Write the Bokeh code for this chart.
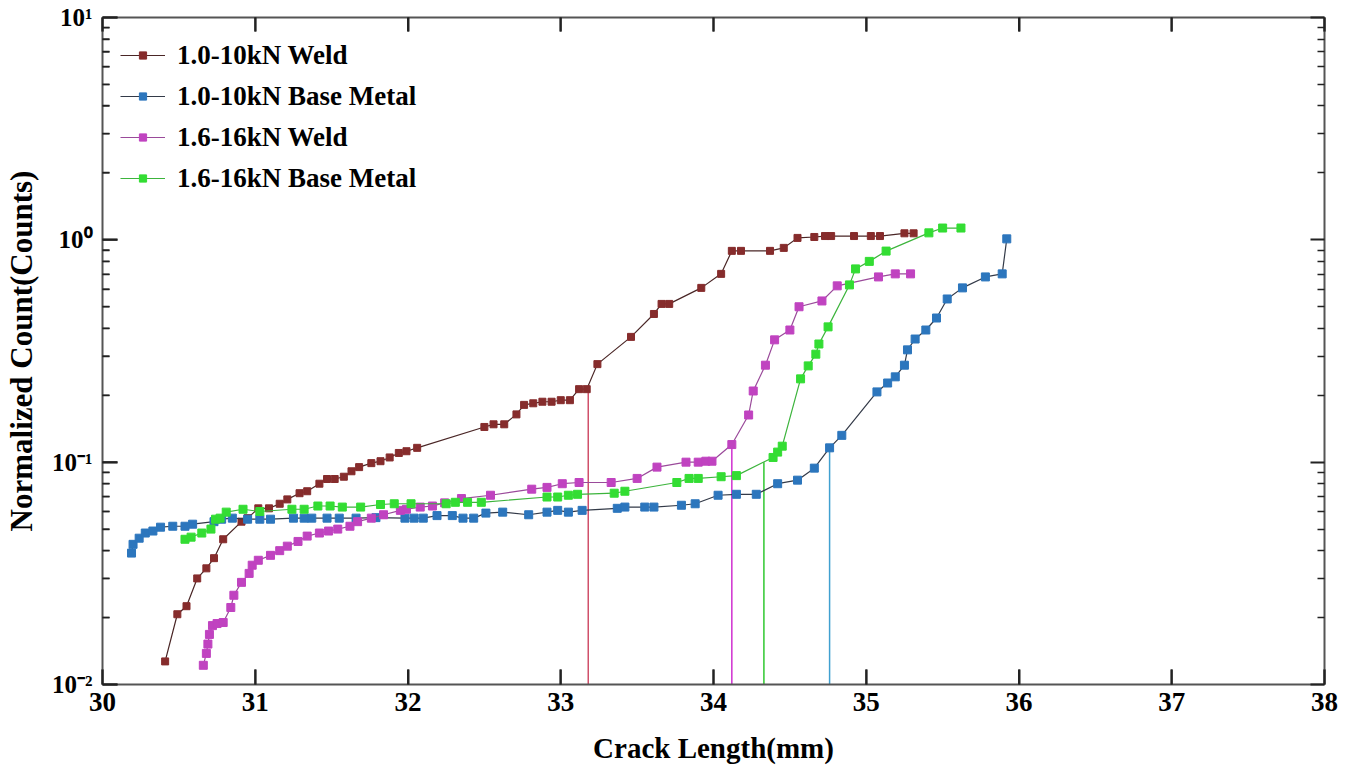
from bokeh.plotting import figure
from bokeh.models import FixedTicker, LinearAxis, LogAxis, Legend, LegendItem
from bokeh.embed import file_html
from bokeh.resources import INLINE

# ---------------- data ----------------
weld10_x = [30.41, 30.49, 30.55, 30.62, 30.68, 30.73, 30.79, 30.91, 30.95, 31.02, 31.09, 31.16,
            31.21, 31.29, 31.34, 31.42, 31.47, 31.52, 31.58, 31.63, 31.68, 31.76, 31.82, 31.88,
            31.94, 31.99, 32.06, 32.50, 32.56, 32.63, 32.71, 32.76, 32.82, 32.88, 32.94, 33.00,
            33.06, 33.12, 33.17, 33.24, 33.46, 33.61, 33.66, 33.71, 33.92, 34.05, 34.12, 34.18,
            34.37, 34.46, 34.55, 34.66, 34.73, 34.77, 34.92, 35.03, 35.09, 35.25, 35.31]
weld10_y = [0.0127, 0.0207, 0.0225, 0.030, 0.0333, 0.037, 0.045, 0.054, 0.056, 0.062, 0.062, 0.065,
            0.068, 0.0725, 0.074, 0.080, 0.084, 0.084, 0.086, 0.091, 0.095, 0.099, 0.101, 0.105,
            0.110, 0.112, 0.116, 0.144, 0.148, 0.148, 0.164, 0.181, 0.184, 0.187, 0.187, 0.190,
            0.190, 0.213, 0.213, 0.276, 0.366, 0.464, 0.515, 0.515, 0.608, 0.703, 0.892, 0.892,
            0.892, 0.920, 1.02, 1.03, 1.04, 1.04, 1.04, 1.04, 1.04, 1.07, 1.07]

base10_x = [30.19, 30.20, 30.24, 30.28, 30.33, 30.38, 30.46, 30.54, 30.59, 30.73, 30.78, 30.85,
            30.95, 31.03, 31.10, 31.25, 31.32, 31.37, 31.47, 31.55, 31.66, 31.79, 31.98, 32.04,
            32.10, 32.19, 32.29, 32.36, 32.43, 32.51, 32.62, 32.79, 32.91, 32.98, 33.05, 33.14,
            33.37, 33.42, 33.55, 33.61, 33.79, 33.88, 34.03, 34.15, 34.28, 34.42, 34.55, 34.66,
            34.76, 34.84, 35.07, 35.14, 35.19, 35.25, 35.27, 35.32, 35.39, 35.46, 35.53, 35.63,
            35.78, 35.89, 35.92]
base10_y = [0.039, 0.0427, 0.0455, 0.048, 0.049, 0.051, 0.0515, 0.0515, 0.0526, 0.054, 0.0554, 0.056,
            0.0554, 0.0554, 0.0554, 0.056, 0.056, 0.056, 0.056, 0.056, 0.056, 0.0563, 0.056, 0.056,
            0.056, 0.0575, 0.0575, 0.056, 0.056, 0.059, 0.0596, 0.058, 0.0596, 0.0607, 0.0596, 0.0607,
            0.062, 0.0628, 0.0628, 0.0628, 0.064, 0.065, 0.071, 0.0717, 0.0717, 0.080, 0.083, 0.094,
            0.116, 0.132, 0.207, 0.227, 0.242, 0.273, 0.320, 0.358, 0.393, 0.445, 0.542, 0.608,
            0.681, 0.703, 1.01]

weld16_x = [30.66, 30.68, 30.69, 30.70, 30.72, 30.75, 30.79, 30.84, 30.86, 30.91, 30.96, 30.98,
            31.02, 31.10, 31.16, 31.21, 31.28, 31.34, 31.42, 31.48, 31.54, 31.62, 31.67, 31.76,
            31.84, 31.95, 31.99, 32.08, 32.16, 32.24, 32.35, 32.54, 32.81, 32.91, 33.01, 33.12,
            33.33, 33.50, 33.63, 33.82, 33.90, 33.95, 33.99, 34.12, 34.23, 34.26, 34.34, 34.40,
            34.50, 34.56, 34.71, 34.81, 35.08, 35.19, 35.29]
weld16_y = [0.0122, 0.0138, 0.0152, 0.0168, 0.0184, 0.0188, 0.019, 0.0222, 0.0252, 0.0288, 0.0316, 0.0344,
            0.0362, 0.0381, 0.040, 0.0419, 0.044, 0.0465, 0.048, 0.049, 0.050, 0.0515, 0.054, 0.056,
            0.058, 0.0607, 0.0614, 0.0628, 0.0635, 0.0656, 0.0686, 0.071, 0.0756, 0.077, 0.080, 0.081,
            0.081, 0.0845, 0.095, 0.100, 0.100, 0.101, 0.101, 0.120, 0.163, 0.209, 0.273, 0.355,
            0.393, 0.500, 0.531, 0.621, 0.681, 0.703, 0.703]

base16_x = [30.54, 30.58, 30.65, 30.71, 30.74, 30.77, 30.81, 30.92, 31.03, 31.24, 31.32, 31.41,
            31.49, 31.57, 31.69, 31.82, 31.91, 32.02, 32.25, 32.31, 32.39, 32.48, 32.91, 32.98,
            33.05, 33.11, 33.35, 33.42, 33.76, 33.84, 33.90, 34.05, 34.15, 34.39, 34.42, 34.45,
            34.57, 34.62, 34.67, 34.69, 34.75, 34.89, 34.93, 35.02, 35.13, 35.41, 35.50, 35.62]
base16_y = [0.045, 0.046, 0.048, 0.050, 0.0554, 0.056, 0.0596, 0.0614, 0.060, 0.0614, 0.0614, 0.0635,
            0.0635, 0.0628, 0.0628, 0.0645, 0.065, 0.065, 0.065, 0.066, 0.066, 0.066, 0.0697, 0.0697,
            0.071, 0.0717, 0.0725, 0.074, 0.081, 0.0845, 0.0845, 0.086, 0.087, 0.105, 0.111, 0.118,
            0.237, 0.271, 0.306, 0.340, 0.406, 0.627, 0.740, 0.800, 0.890, 1.075, 1.13, 1.13]

drop_x = [33.18, 34.12, 34.33, 34.76]
drop_top = [0.22, 0.12, 0.10, 0.116]
drop_bottom = [0.01, 0.01, 0.01, 0.01]

labels = ["1.0-10kN Weld", "1.0-10kN Base Metal", "1.6-16kN Weld", "1.6-16kN Base Metal"]
x_lim = (30, 38)
y_lim = (0.01, 10)
x_ticks = [30, 31, 32, 33, 34, 35, 36, 37, 38]
y_ticks = [0.01, 0.1, 1, 10]
y_tick_labels = ["10\u207b\u00b2", "10\u207b\u00b9", "10\u2070", "10\u00b9"]
y_minor = [m * d for d in [0.01, 0.1, 1] for m in range(2, 10)]

# ---------------- figure ----------------
SERIF = "Liberation Serif"
AX_COL = "#555555"
TICK_COL = "#222222"

p = figure(width=1349, height=782, x_range=x_lim, y_range=y_lim,
           y_axis_type="log", output_backend="svg", toolbar_location=None,
           min_border_left=102, min_border_right=25, min_border_top=17,
           min_border_bottom=98)
p.grid.visible = False
p.outline_line_color = None

xt = FixedTicker(ticks=x_ticks, minor_ticks=[])
yt = FixedTicker(ticks=y_ticks, minor_ticks=y_minor)

xa = p.xaxis[0]
xa.ticker = xt
xa.axis_label = "Crack Length(mm)"
ya = p.yaxis[0]
ya.ticker = yt
ya.major_label_overrides = dict(zip(y_ticks, y_tick_labels))
ya.axis_label = "Normalized Count(Counts)"


def style_ticks(ax, major_len):
    ax.axis_line_color = AX_COL
    ax.axis_line_width = 2
    ax.major_tick_line_color = TICK_COL
    ax.minor_tick_line_color = TICK_COL
    ax.major_tick_line_width = 2
    ax.minor_tick_line_width = 1.5
    ax.major_tick_in = major_len
    ax.major_tick_out = 0
    ax.minor_tick_in = 7
    ax.minor_tick_out = 0


for ax in (xa, ya):
    style_ticks(ax, 15)
    ax.major_label_text_font = SERIF
    ax.major_label_text_font_style = "bold"
    ax.major_label_text_color = "black"
    ax.axis_label_text_font = SERIF
    ax.axis_label_text_font_style = "bold"
    ax.axis_label_text_color = "black"

xa.major_label_text_font_size = "27px"
xa.major_label_standoff = 8
xa.axis_label_text_font_size = "29px"
xa.axis_label_standoff = 18
ya.major_label_text_font_size = "25px"
ya.major_label_standoff = 10
ya.axis_label_text_font_size = "31px"
ya.axis_label_standoff = 10

# tick-only axes on the top and right edges
top_ax = LinearAxis(ticker=xt, major_label_overrides={t: "" for t in x_ticks})
right_ax = LogAxis(ticker=yt, major_label_overrides={t: "" for t in y_ticks})
for ax in (top_ax, right_ax):
    style_ticks(ax, 14)
    ax.major_label_standoff = 0
    ax.major_label_text_font_size = "1px"
p.add_layout(top_ax, "above")
p.add_layout(right_ax, "right")

# inward tick marks on bottom, top and left edges drawn on the overlay level
x_major_len = 0.098     # ~15 px of the x span
x_minor_len = 0.046     # ~7 px
y_major_fac = 1.168     # ~15 px of a decade
y_top_fac = 1.156       # ~14 px
nx, ny, nm = len(x_ticks), len(y_ticks), len(y_minor)
p.segment(x0=x_ticks, y0=[y_lim[0]] * nx, x1=x_ticks, y1=[y_lim[0] * y_major_fac] * nx,
          line_color=TICK_COL, line_width=2, level="overlay")
p.segment(x0=x_ticks, y0=[y_lim[1]] * nx, x1=x_ticks, y1=[y_lim[1] / y_top_fac] * nx,
          line_color=TICK_COL, line_width=2, level="overlay")
p.segment(x0=[x_lim[0]] * ny, y0=y_ticks, x1=[x_lim[0] + x_major_len] * ny, y1=y_ticks,
          line_color=TICK_COL, line_width=2, level="overlay")
p.segment(x0=[x_lim[0]] * nm, y0=y_minor, x1=[x_lim[0] + x_minor_len] * nm, y1=y_minor,
          line_color=TICK_COL, line_width=1.5, level="overlay")

# drop lines
p.segment(x0=drop_x, y0=drop_top, x1=drop_x, y1=drop_bottom,
          line_color=["#d0506a", "#d030d0", "#30c830", "#40a0d0"], line_width=1.5)

series = [
    (weld10_x, weld10_y, "#4a2626", "#862c2c", 7),
    (base10_x, base10_y, "#333a48", "#2c76bd", 8),
    (weld16_x, weld16_y, "#9a4a9a", "#c043c0", 8),
    (base16_x, base16_y, "#3cb43c", "#33dd33", 8),
]
items = []
for (xs, ys, lc, mc, sz), lab in zip(series, labels):
    lr = p.line(xs, ys, line_color=lc, line_width=1.2)
    mr = p.scatter(xs, ys, marker="square", size=sz, fill_color=mc, line_color=mc)
    items.append(LegendItem(label=lab, renderers=[lr, mr]))

legend = Legend(items=items, location="top_left")
legend.margin = 0
legend.padding = 18
legend.border_line_alpha = 0
legend.background_fill_alpha = 0
legend.glyph_width = 45
legend.glyph_height = 18
legend.label_height = 40
legend.spacing = 1
legend.label_standoff = 12
legend.label_text_font = SERIF
legend.label_text_font_style = "bold"
legend.label_text_font_size = "27px"
legend.label_text_color = "black"
p.add_layout(legend)

open("out.html", "w").write(file_html(p, INLINE))
